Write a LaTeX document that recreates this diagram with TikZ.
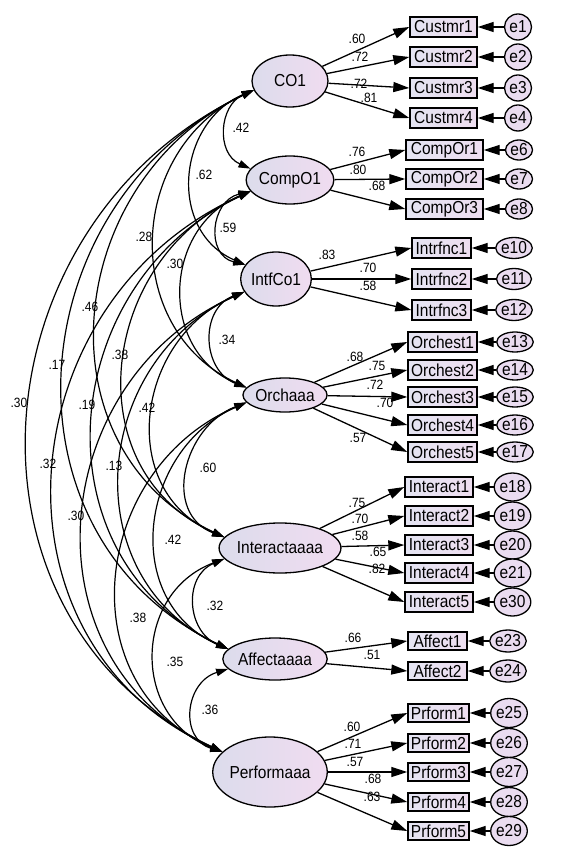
\documentclass[tikz,border=0pt]{standalone}
\usepackage{fontspec}
\setmainfont{Liberation Sans}
\usetikzlibrary{shapes.geometric,arrows.meta}
\definecolor{latL}{HTML}{DCDCEC}
\definecolor{latR}{HTML}{F0DCF0}
\definecolor{boxL}{HTML}{E4E4F2}
\definecolor{boxR}{HTML}{EEDEF0}
\definecolor{errC}{HTML}{EADCF0}
\newcommand\fsLab{\fontsize{15.5}{18}\selectfont}
\newcommand\fsNum{\fontsize{12}{14}\selectfont}
\newcommand\tx[1]{\scalebox{1}[1.12]{#1}}
\tikzset{
 lat/.style={ellipse, draw, line width=1.3pt, left color=latL, right color=latR, inner sep=0pt, font=\fsLab},
 obs/.style={rectangle, draw, line width=1.4pt, left color=boxL, right color=boxR, inner sep=0pt, minimum height=20pt, font=\fsLab},
 err/.style={ellipse, draw, line width=1.3pt, fill=errC, inner sep=0pt, font=\fsLab},
 ld/.style={-{Triangle[length=16pt,width=10pt]}, line width=1.3pt},
 cv/.style={{Triangle[length=12pt,width=7.5pt]}-{Triangle[length=12pt,width=7.5pt]}, line width=1.2pt},
 num/.style={font=\fsNum, inner sep=0pt},
}
\begin{document}
\begin{tikzpicture}[x=1pt,y=-1pt]
\useasboundingbox[fill=white] (0,0) rectangle (579,850);
% latent variables
\node[lat, minimum width=76pt, minimum height=52pt] (CO1) at (290,81) {\tx{CO1}};
\node[lat, minimum width=76pt, minimum height=48pt] (CompO1) at (290,180) {\tx{CompO1}};
\node[lat, minimum width=66pt, minimum height=54pt] (IntfCo1) at (276,279) {\tx{IntfCo1}};
\node[lat, minimum width=80pt, minimum height=34pt] (Orch) at (285,395) {\tx{Orchaaa}};
\node[lat, minimum width=102pt, minimum height=50pt] (Inter) at (280,548) {\tx{Interactaaaa}};
\node[lat, minimum width=86pt, minimum height=42pt] (Aff) at (275,659) {\tx{Affectaaaa}};
\node[lat, minimum width=98pt, minimum height=70pt] (Perf) at (270,772) {\tx{Performaaa}};
% observed: CO1
\foreach \i/\y in {1/27,2/57,3/88,4/118}{
 \node[obs, minimum width=67pt] (Custmr\i) at (443.5,\y) {\tx{Custmr\i}};
 \node[err, minimum width=27pt, minimum height=26pt] (e\i) at (518,\y) {\tx{e\i}};
 \draw[ld] (e\i) -- (Custmr\i.east);
 \draw[ld] (CO1) -- (Custmr\i.west);
}
% CompO1
\foreach \i/\y/\e in {1/150/6,2/179/7,3/209/8}{
 \node[obs, minimum width=77pt] (CompOr\i) at (444.5,\y) {\tx{CompOr\i}};
 \node[err, minimum width=27pt, minimum height=20pt] (e\e) at (519,\y) {\tx{e\e}};
 \draw[ld] (e\e) -- (CompOr\i.east);
 \draw[ld] (CompO1) -- (CompOr\i.west);
}
% IntfCo1
\foreach \i/\y/\e in {1/248/10,2/279/11,3/310/12}{
 \node[obs, minimum width=59pt] (Intrfnc\i) at (441.5,\y) {\tx{Intrfnc\i}};
 \node[err, minimum width=31pt, minimum height=21pt] (e\e) at (514,\y) {\tx{e\e}};
 \draw[ld] (e\e) -- (Intrfnc\i.east);
 \draw[ld] (IntfCo1) -- (Intrfnc\i.west);
}
% Orch
\foreach \i/\y/\e in {1/342/13,2/370/14,3/397/15,4/425/16,5/452/17}{
 \node[obs, minimum width=69pt] (Orchest\i) at (442.5,\y) {\tx{Orchest\i}};
 \node[err, minimum width=32pt, minimum height=20pt] (e\e) at (515,\y) {\tx{e\e}};
 \draw[ld] (e\e) -- (Orchest\i.east);
 \draw[ld] (Orch) -- (Orchest\i.west);
}
% Inter
\foreach \i/\y/\e in {1/487/18,2/516/19,3/545/20,4/573/21,5/602/30}{
 \node[obs, minimum width=68pt] (Interact\i) at (439,\y) {\tx{Interact\i}};
 \node[err, minimum width=28pt, minimum height=28pt] (e\e) at (512.5,\y) {\tx{e\e}};
 \draw[ld] (e\e) -- (Interact\i.east);
 \draw[ld] (Inter) -- (Interact\i.west);
}
% Aff
\foreach \i/\y/\e in {1/641/23,2/671/24}{
 \node[obs, minimum width=59pt, minimum height=18pt] (Affect\i) at (437.5,\y) {\tx{Affect\i}};
 \node[err, minimum width=29pt, minimum height=22pt] (e\e) at (508,\y) {\tx{e\e}};
 \draw[ld] (e\e) -- (Affect\i.east);
 \draw[ld] (Aff) -- (Affect\i.west);
}
% Perf
\foreach \i/\y/\e in {1/713/25,2/743/26,3/772/27,4/802/28,5/831/29}{
 \node[obs, minimum width=61pt, minimum height=18pt] (Prform\i) at (438.5,\y) {\tx{Prform\i}};
 \node[err, minimum width=28pt, minimum height=29pt] (e\e) at (509,\y) {\tx{e\e}};
 \draw[ld] (e\e) -- (Prform\i.east);
 \draw[ld] (Perf) -- (Prform\i.west);
}
% loading labels
\foreach \t/\x/\y [count=\k] in {.60/357/39,.72/360/57,.72/359/84,.81/369/98,
 .76/357/152,.80/358/170,.68/377/186,
 .83/327/255,.70/368/268,.58/368/286,
 .68/355/357,.75/377/366,.72/375/385,.70/385/403,.57/358/438,
 .75/357/503,.70/360/519,.58/360/536,.65/378/552,.82/377/569,
 .66/353/638,.51/372/655,
 .60/352/727,.71/353/744,.57/355/762,.68/373/779,.63/372/797}
 \node[num] (ll\k) at (\x,\y) {\tx{\t}};
% covariances
\draw[cv] (CO1.194) .. controls +(-34.7,15.4) and +(-34.7,-15.4) .. (CompO1.164);
\draw[cv] (CO1.194) .. controls +(-77.3,33.1) and +(-77.3,-33.1) .. (IntfCo1.155);
\draw[cv] (CompO1.196) .. controls +(-40,9.5) and +(-40,-9.5) .. (IntfCo1.155);
\draw[cv] (CO1.194) .. controls +(-126.7,59.1) and +(-126.7,-59.1) .. (Orch.169);
\draw[cv] (CompO1.196) .. controls +(-88,36.6) and +(-88,-36.6) .. (Orch.169);
\draw[cv] (IntfCo1.202) .. controls +(-44.7,17) and +(-44.7,-17) .. (Orch.169);
\draw[cv] (CO1.194) .. controls +(-189.3,89.9) and +(-189.3,-89.9) .. (Inter.169);
\draw[cv] (CompO1.196) .. controls +(-150.7,67.4) and +(-150.7,-67.4) .. (Inter.169);
\draw[cv] (IntfCo1.202) .. controls +(-108.7,47) and +(-108.7,-47) .. (Inter.169);
\draw[cv] (Orch.191) .. controls +(-62.7,24.1) and +(-62.7,-24.1) .. (Inter.169);
\draw[cv] (CO1.194) .. controls +(-236,113) and +(-236,-113) .. (Aff.168);
\draw[cv] (CompO1.196) .. controls +(-194.7,92.4) and +(-194.7,-92.4) .. (Aff.168);
\draw[cv] (IntfCo1.202) .. controls +(-154,70.5) and +(-154,-70.5) .. (Aff.168);
\draw[cv] (Orch.191) .. controls +(-108,47.6) and +(-108,-47.6) .. (Aff.168);
\draw[cv] (Inter.191) .. controls +(-41.3,17.7) and +(-41.3,-17.7) .. (Aff.168);
\draw[cv] (CO1.194) .. controls +(-279.3,133.8) and +(-279.3,-133.8) .. (Perf.157);
\draw[cv] (CompO1.196) .. controls +(-243.3,109.8) and +(-243.3,-109.8) .. (Perf.157);
\draw[cv] (IntfCo1.202) .. controls +(-200,89.8) and +(-200,-89.8) .. (Perf.157);
\draw[cv] (Orch.191) .. controls +(-155.3,66.6) and +(-155.3,-66.6) .. (Perf.157);
\draw[cv] (Inter.191) .. controls +(-91.3,34.4) and +(-91.3,-34.4) .. (Perf.157);
\draw[cv] (Aff.192) .. controls +(-43.3,13.2) and +(-43.3,-13.2) .. (Perf.157);
% covariance labels
\foreach \t/\x/\y [count=\k] in {.42/241/128,.62/204/175,.59/228/228,.28/144/237,.30/175/264,
 .34/227/340,.46/90/307,.38/120/355,.17/57/365,.30/19/403,.19/87/405,.42/147/408,
 .32/48/464,.13/114/466,.60/208/468,.30/76/516,.42/173/540,.32/215/606,.38/138/618,
 .35/175/662,.36/210/710}
 \node[num] (cl\k) at (\x,\y) {\tx{\t}};
\end{tikzpicture}
\end{document}
